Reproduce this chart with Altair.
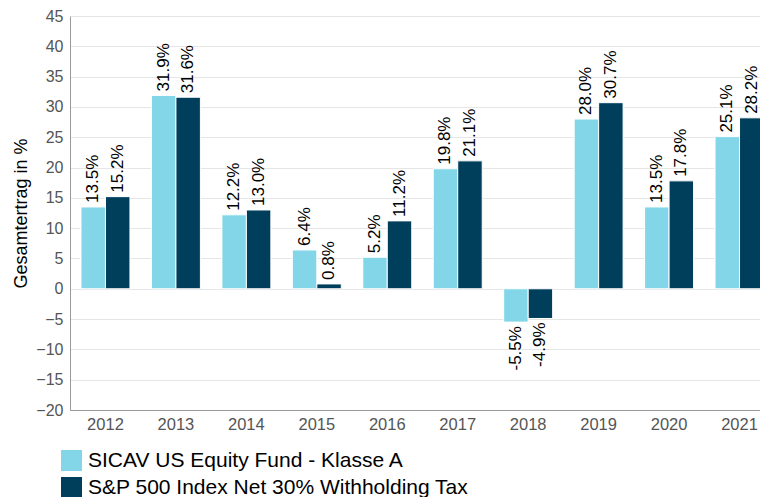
import altair as alt
import pandas as pd

years = ["2012", "2013", "2014", "2015", "2016", "2017", "2018", "2019", "2020", "2021"]
fund = [13.5, 31.9, 12.2, 6.4, 5.2, 19.8, -5.5, 28.0, 13.5, 25.1]
index = [15.2, 31.6, 13.0, 0.8, 11.2, 21.1, -4.9, 30.7, 17.8, 28.2]
series = ["SICAV US Equity Fund - Klasse A", "S&P 500 Index Net 30% Withholding Tax"]
colors = ["#82d6e8", "#003f5c"]

rows = []
for y, a, b in zip(years, fund, index):
    rows.append({"Jahr": y, "Serie": series[0], "Wert": a, "Label": f"{a:.1f}%"})
    rows.append({"Jahr": y, "Serie": series[1], "Wert": b, "Label": f"{b:.1f}%"})
df = pd.DataFrame(rows)

FONT = "Liberation Sans"

x = alt.X("Jahr:N", title=None,
          scale=alt.Scale(paddingInner=0.305, paddingOuter=0.156, range=[0, 705]),
          axis=alt.Axis(labelAngle=0, labelFontSize=16.5, labelColor="#555555",
                        labelFont=FONT, ticks=False, labelPadding=6,
                        domainColor="#999999", grid=False))
y = alt.Y("Wert:Q", title="Gesamtertrag in %",
          scale=alt.Scale(domain=[-20, 45], nice=False),
          axis=alt.Axis(values=list(range(-20, 50, 5)), labelFontSize=16,
                        labelColor="#555555", labelFont=FONT, ticks=False,
                        labelPadding=7, titleFontSize=18, titleFont=FONT,
                        titleFontWeight="normal", titleColor="#000000",
                        gridColor="#e6e6e6", domainColor="#999999",
                        titlePadding=5))
color = alt.Color("Serie:N", scale=alt.Scale(domain=series, range=colors),
                  legend=alt.Legend(title=None, orient="none", legendX=-9, legendY=434,
                                    symbolType="square", symbolSize=441,
                                    symbolStrokeWidth=0, labelFontSize=21,
                                    labelFont=FONT, labelColor="#000000",
                                    labelOffset=6,
                                    rowPadding=5, labelLimit=700, symbolOpacity=1))
xo = alt.XOffset("Serie:N", scale=alt.Scale(domain=series))

base = alt.Chart(df)
bars = base.mark_bar(stroke="white", strokeWidth=1).encode(x=x, y=y, color=color, xOffset=xo)
pos = base.transform_filter("datum.Wert >= 0").mark_text(
    angle=270, align="left", baseline="middle", dx=4, fontSize=17, font=FONT, color="#000000"
).encode(x=x, y=y, xOffset=xo, text="Label:N")
neg = base.transform_filter("datum.Wert < 0").mark_text(
    angle=270, align="right", baseline="middle", dx=-4, fontSize=17, font=FONT, color="#000000"
).encode(x=x, y=y, xOffset=xo, text="Label:N")

chart = (bars + pos + neg).properties(
    width=690, height=394,
    autosize=alt.AutoSizeParams(type="none"),
    padding={"left": 62, "top": 8, "right": 0, "bottom": 87},
).configure_view(stroke=None)

chart.save("out.html", embed_options={"renderer": "svg", "actions": False})
